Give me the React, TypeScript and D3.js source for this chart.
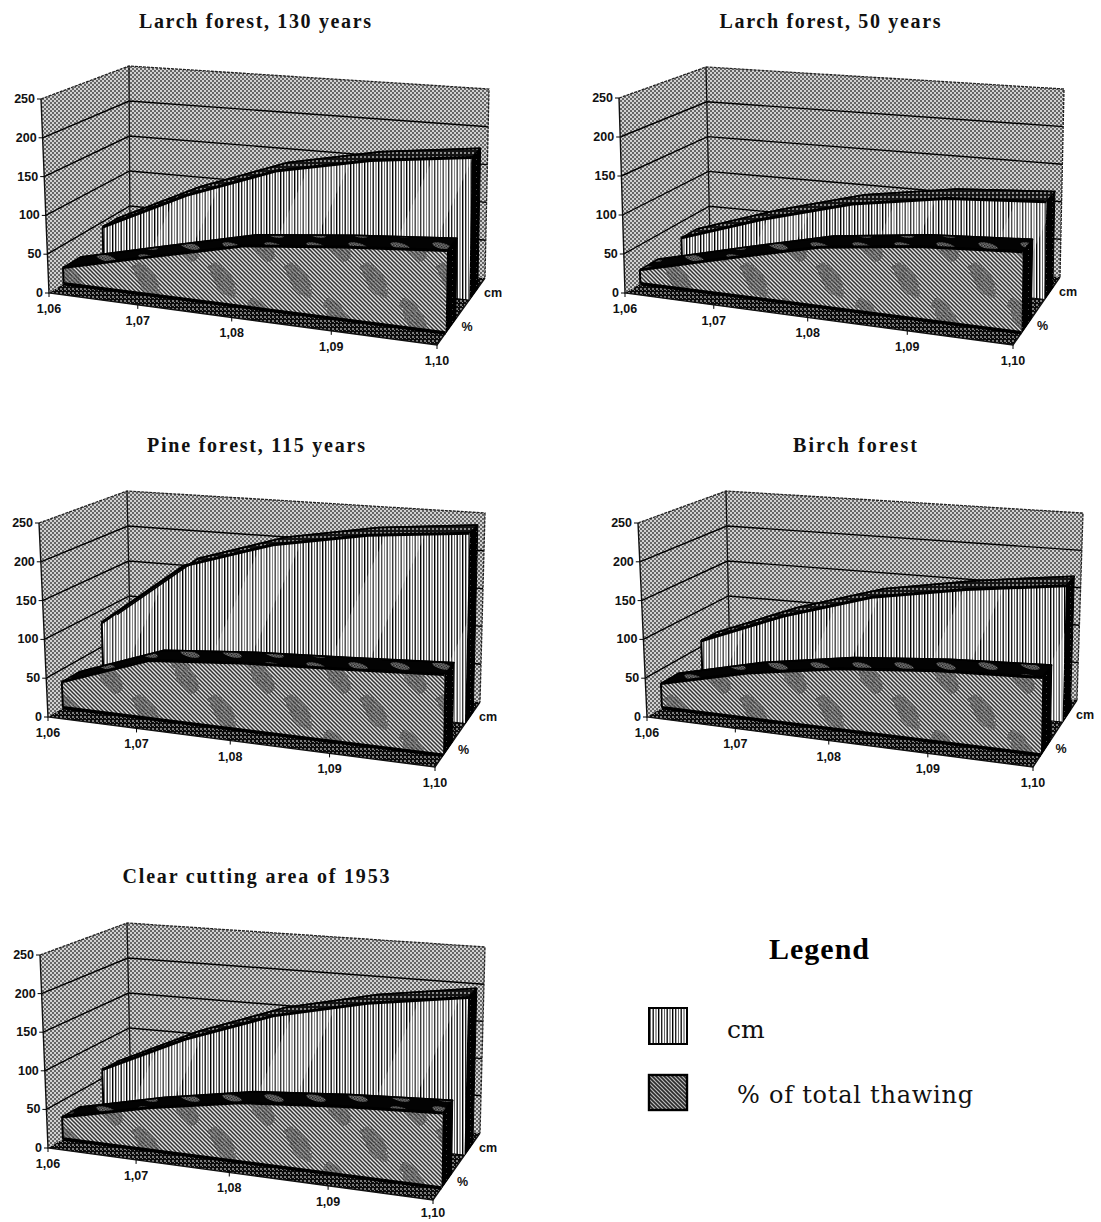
import React from "react";
import * as d3 from "d3";

const categories = ["1,06", "1,07", "1,08", "1,09", "1,10"];
const valueTicks = [0, 50, 100, 150, 200, 250];

const titles = ["Larch forest, 130 years", "Larch forest, 50 years", "Pine forest, 115 years", "Birch forest", "Clear cutting area of 1953"];
const cmLarch130 = [43, 98, 142, 167, 182];
const pctLarch130 = [21, 49, 77, 90, 100];
const cmLarch50 = [28, 66, 98, 117, 125];
const pctLarch50 = [18, 47, 75, 90, 98];
const cmPine = [83, 171, 209, 231, 243];
const pctPine = [34, 75, 85, 91, 98];
const cmBirch = [58, 103, 139, 160, 176];
const pctBirch = [32, 59, 78, 89, 95];
const cmClear = [62, 115, 158, 186, 205];
const pctClear = [29, 55, 76, 86, 93];
const cmSeries = [cmLarch130, cmLarch50, cmPine, cmBirch, cmClear];
const pctSeries = [pctLarch130, pctLarch50, pctPine, pctBirch, pctClear];

type Pt = [number, number];
type Geo = { fl: Pt; flt: Pt; fr: Pt; br: Pt; brt: Pt; bl: Pt; blt: Pt; tx: number; ty: number; tw: number };

const layouts: Geo[] = [
  { fl: [49, 293], flt: [41, 99], fr: [437, 345], br: [485, 278], brt: [489, 89], bl: [130, 241], blt: [129, 66], tx: 255, ty: 28, tw: 232 },
  { fl: [625, 293], flt: [619, 98], fr: [1013, 345], br: [1060, 277], brt: [1064, 89], bl: [710, 241], blt: [706, 67], tx: 830, ty: 28, tw: 221 },
  { fl: [48, 717], flt: [39, 523], fr: [435, 767], br: [480, 702], brt: [485, 513], bl: [131, 666], blt: [127, 491], tx: 256, ty: 452, tw: 218 },
  { fl: [647, 717], flt: [638, 523], fr: [1033, 767], br: [1077, 700], brt: [1083, 513], bl: [730, 666], blt: [726, 491], tx: 855, ty: 452, tw: 124 },
  { fl: [48, 1148], flt: [40, 955], fr: [433, 1200], br: [480, 1133], brt: [485, 947], bl: [131, 1098], blt: [127, 923], tx: 256, ty: 883, tw: 267 },
];

const xPos = d3.scalePoint<string>().domain(categories).range([0, 1]);
const hPos = d3.scaleLinear().domain([0, 250]).range([0, 1]);
const PERSPECTIVE = 0.89;
const persp = (t: number) => (t * PERSPECTIVE) / (t * PERSPECTIVE + (1 - t));
const lerp = (a: Pt, b: Pt, k: number): Pt => [a[0] + (b[0] - a[0]) * k, a[1] + (b[1] - a[1]) * k];

function projector(g: Geo) {
  const hl = g.fl[1] - g.flt[1];
  const hb = g.bl[1] - g.blt[1];
  const hbr = g.br[1] - g.brt[1];
  const frt: Pt = [g.fr[0] + 3, g.fr[1] - (hbr * hl) / hb];
  return (t: number, v: number, h: number): Pt => {
    const u = persp(t);
    const floor = lerp(lerp(g.fl, g.fr, u), lerp(g.bl, g.br, u), v);
    const top = lerp(lerp(g.flt, frt, u), lerp(g.blt, g.brt, u), v);
    return lerp(floor, top, h);
  };
}

const line = d3.line<Pt>();
const closed = (p: Pt[]) => (line(p) as string) + "Z";

const CM_DEPTH: Pt = [0.67, 0.85];
const PCT_DEPTH: Pt = [0.18, 0.39];

function Series({ p, values, depth, face, overlay, band, side, bottomW }: any) {
  const ts = categories.map((c) => xPos(c) as number);
  const front: Pt[] = ts.map((t, i) => p(t, depth[0], hPos(values[i])));
  const back: Pt[] = ts.map((t, i) => p(t, depth[1], hPos(values[i])));
  const fb0: Pt = p(0, depth[0], 0);
  const fb1: Pt = p(1, depth[0], 0);
  const bb1: Pt = p(1, depth[1], 0);
  const last = values.length - 1;
  const faceD = closed([fb0, ...front, fb1]);
  return (
    <g>
      <path d={closed([front[last], back[last], bb1, fb1])} fill={side} stroke="#000" strokeWidth={1} />
      <path d={closed([...front, ...[...back].reverse()])} fill={band} stroke="#000" strokeWidth={1.5} strokeLinejoin="round" />
      <path d={faceD} fill={face} />
      {overlay ? <path d={faceD} fill={overlay} /> : null}
      <path d={line(back) as string} fill="none" stroke="#000" strokeWidth={1.6} />
      <path d={line(front) as string} fill="none" stroke="#000" strokeWidth={3} strokeLinejoin="round" />
      <path d={line([fb0, front[0]]) as string} fill="none" stroke="#000" strokeWidth={2} />
      <path d={line([fb0, fb1]) as string} fill="none" stroke="#000" strokeWidth={bottomW} />
    </g>
  );
}

function Chart({ g, title, cm, pct }: { g: Geo; title: string; cm: number[]; pct: number[] }) {
  const p = projector(g);
  const labelStyle = { fontFamily: "'Liberation Sans', Arial, sans-serif", fontWeight: 700, fontSize: 12.5, fill: "#111" } as const;
  return (
    <g>
      <text x={g.tx} y={g.ty} textAnchor="middle" textLength={g.tw} lengthAdjust="spacing"
        style={{ fontFamily: "'Liberation Serif', serif", fontWeight: 700, fontSize: 20, fill: "#111" }}>{title}</text>
      <path d={closed([g.fl, g.bl, g.blt, g.flt])} fill="url(#wall)" />
      <path d={closed([g.bl, g.br, g.brt, g.blt])} fill="url(#wall)" />
      {valueTicks.slice(1, 5).map((v) => {
        const h = hPos(v);
        return (
          <path key={v} d={line([p(0, 0, h), p(0, 1, h), p(1, 1, h)]) as string} fill="none" stroke="#000" strokeWidth={1.4} />
        );
      })}
      <path d={closed([g.fl, g.fr, g.br, g.bl])} fill="url(#floor)" />
      <path d={line([g.flt, g.blt, g.brt, g.br]) as string} fill="none" stroke="#222" strokeWidth={1.3} strokeDasharray="3 1" />
      <path d={line([g.blt, g.bl]) as string} fill="none" stroke="#111" strokeWidth={1.3} />
      <path d={line([g.flt, g.fl, g.fr, g.br]) as string} fill="none" stroke="#111" strokeWidth={1.4} />
      {valueTicks.map((v) => {
        const q = p(0, 0, hPos(v));
        return (
          <g key={v}>
            <path d={line([q, [q[0] - 4, q[1]]]) as string} stroke="#000" strokeWidth={1} />
            <text x={q[0] - 6} y={q[1] + 4} textAnchor="end" style={labelStyle}>{v}</text>
          </g>
        );
      })}
      {categories.map((c) => {
        const q = p(xPos(c) as number, 0, 0);
        return (
          <g key={c}>
            <path d={line([q, [q[0], q[1] + 4]]) as string} stroke="#000" strokeWidth={1} />
            <text x={q[0]} y={Math.min(q[1] + 20, 1217)} textAnchor="middle" style={labelStyle}>{c}</text>
          </g>
        );
      })}
      <Series p={p} values={cm} depth={CM_DEPTH} face="url(#stripeBase)" overlay="url(#moire)" band="url(#cmBand)" side="url(#side)" bottomW={1} />
      <Series p={p} values={pct} depth={PCT_DEPTH} face="url(#hatchBlot)" band="url(#pctBand)" side="url(#side)" bottomW={3.5} />
      {(() => {
        const a = p(1, 0.5, 0);
        const b = p(1, 1, 0);
        return (
          <g>
            <text x={a[0] + 6} y={a[1] + 19} textAnchor="middle" style={labelStyle}>%</text>
            <text x={b[0] - 1} y={b[1] + 19} textAnchor="start" style={labelStyle}>cm</text>
          </g>
        );
      })()}
    </g>
  );
}

function Defs() {
  return (
    <defs>
      <filter id="rough" x="-30%" y="-30%" width="160%" height="160%">
        <feTurbulence type="fractalNoise" baseFrequency="0.18" numOctaves="2" seed="4" result="n" />
        <feDisplacementMap in="SourceGraphic" in2="n" scale="9" />
      </filter>
      <pattern id="wall" width="4" height="4" patternUnits="userSpaceOnUse">
        <rect width="4" height="4" fill="#d2d2d2" />
        <rect x="0" y="0" width="2" height="2" fill="#666" shapeRendering="crispEdges" />
        <rect x="2" y="2" width="2" height="2" fill="#666" shapeRendering="crispEdges" />
      </pattern>
      <pattern id="floor" width="4" height="4" patternUnits="userSpaceOnUse">
        <rect width="4" height="4" fill="#0c0c0c" />
        <rect x="0" y="0" width="2" height="2" fill="#7c7c7c" shapeRendering="crispEdges" />
        <rect x="2" y="2" width="1" height="1" fill="#888" shapeRendering="crispEdges" />
      </pattern>
      <pattern id="stripeBase" width="14" height="8" patternUnits="userSpaceOnUse">
        <rect width="14" height="8" fill="#fff" />
        <rect x="0" width="1.4" height="8" fill="#000" />
        <rect x="3" width="1.4" height="8" fill="#222" />
        <rect x="6" width="1" height="8" fill="#666" />
        <rect x="8.5" width="1.4" height="8" fill="#111" />
        <rect x="11.5" width="1" height="8" fill="#444" />
      </pattern>
      <pattern id="moire" width="110" height="40" patternUnits="userSpaceOnUse" patternTransform="rotate(24)">
        <rect x="20" width="36" height="40" fill="#fff" opacity="0.22" />
      </pattern>
      <pattern id="fineHatch" width="4" height="4" patternUnits="userSpaceOnUse">
        <rect width="4" height="4" fill="#e4e4e4" />
        <path d="M-1,-1L5,5M-1,3L1,5M3,-1L5,1" stroke="#333" strokeWidth="1.5" />
      </pattern>
      <pattern id="darkDots" width="3" height="3" patternUnits="userSpaceOnUse">
        <rect width="3" height="3" fill="#8a8a8a" />
        <rect width="1.5" height="1.5" fill="#111" />
        <rect x="1.5" y="1.5" width="1.5" height="1.5" fill="#222" />
      </pattern>
      <pattern id="hatchBlot" width="76" height="72" patternUnits="userSpaceOnUse" patternTransform="translate(14,10)">
        <rect width="76" height="72" fill="url(#fineHatch)" />
        <g fill="url(#darkDots)" opacity="0.55" filter="url(#rough)">
          <ellipse cx="19" cy="18" rx="9" ry="20" transform="rotate(-32 19 18)" />
          <ellipse cx="57" cy="54" rx="9" ry="20" transform="rotate(-32 57 54)" />
        </g>
      </pattern>
      <pattern id="pctBand" width="42" height="12" patternUnits="userSpaceOnUse">
        <rect width="42" height="12" fill="#030303" />
        <ellipse cx="22" cy="6" rx="10" ry="3" fill="url(#darkDots)" transform="rotate(14 22 6)" />
      </pattern>
      <pattern id="cmBand" width="4" height="4" patternUnits="userSpaceOnUse">
        <rect width="4" height="4" fill="#141414" />
        <rect width="2" height="2" fill="#8a8a8a" shapeRendering="crispEdges" />
      </pattern>
      <pattern id="side" width="6" height="6" patternUnits="userSpaceOnUse">
        <rect width="6" height="6" fill="#000" />
        <rect x="2" y="3" width="1" height="1" fill="#444" />
      </pattern>
      <pattern id="legendHatch" width="4" height="4" patternUnits="userSpaceOnUse">
        <rect width="4" height="4" fill="#bdbdbd" />
        <path d="M-1,-1L5,5M-1,3L1,5M3,-1L5,1" stroke="#2a2a2a" strokeWidth="1.6" />
      </pattern>
    </defs>
  );
}

export default function App() {
  return (
    <svg width={1101} height={1222} style={{ position: "absolute", left: 0, top: 0, background: "#fff" }}>
      <Defs />
      {layouts.map((g, i) => (
        <Chart key={i} g={g} title={titles[i]} cm={cmSeries[i]} pct={pctSeries[i]} />
      ))}
      <text x={819} y={959} textAnchor="middle" textLength={100} lengthAdjust="spacing"
        style={{ fontFamily: "'Liberation Serif', serif", fontWeight: 700, fontSize: 30, fill: "#000" }}>Legend</text>
      <rect x={649} y={1008} width={38} height={36} fill="url(#stripeBase)" stroke="#000" strokeWidth={2} />
      <rect x={649} y={1075} width={38} height={35} fill="url(#legendHatch)" stroke="#000" strokeWidth={2.4} />
      <text x={727} y={1038} style={{ fontFamily: "'DejaVu Serif', serif", fontSize: 25, fill: "#111" }}>cm</text>
      <text x={737} y={1103} textLength={236} lengthAdjust="spacing"
        style={{ fontFamily: "'DejaVu Serif', serif", fontSize: 24, fill: "#111" }}>% of total thawing</text>
    </svg>
  );
}
